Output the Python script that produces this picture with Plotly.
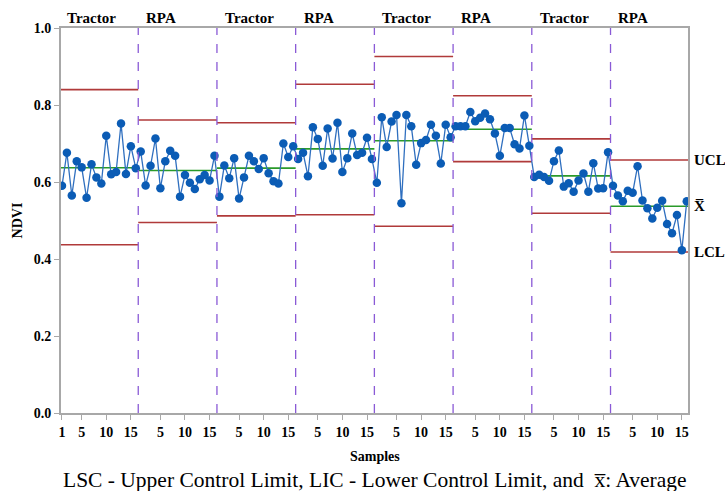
import plotly.graph_objects as go

# ---------------- data ----------------
segment_labels = ["Tractor", "RPA", "Tractor", "RPA", "Tractor", "RPA", "Tractor", "RPA"]
samples_per_segment = 16

ndvi_seg1 = [0.590, 0.676, 0.565, 0.654, 0.638, 0.559, 0.646, 0.612, 0.596, 0.720, 0.620, 0.626, 0.752, 0.621, 0.693, 0.636]
ndvi_seg2 = [0.679, 0.591, 0.642, 0.713, 0.584, 0.654, 0.681, 0.668, 0.562, 0.618, 0.598, 0.582, 0.607, 0.618, 0.604, 0.668]
ndvi_seg3 = [0.562, 0.643, 0.610, 0.662, 0.557, 0.612, 0.668, 0.654, 0.634, 0.662, 0.623, 0.602, 0.596, 0.700, 0.665, 0.693]
ndvi_seg4 = [0.660, 0.676, 0.615, 0.742, 0.712, 0.642, 0.739, 0.661, 0.754, 0.626, 0.662, 0.726, 0.670, 0.676, 0.715, 0.660]
ndvi_seg5 = [0.598, 0.768, 0.691, 0.757, 0.774, 0.545, 0.774, 0.745, 0.645, 0.701, 0.709, 0.749, 0.720, 0.648, 0.749, 0.716]
ndvi_seg6 = [0.745, 0.745, 0.745, 0.782, 0.758, 0.767, 0.778, 0.763, 0.726, 0.668, 0.740, 0.740, 0.698, 0.687, 0.773, 0.694]
ndvi_seg7 = [0.613, 0.619, 0.613, 0.603, 0.654, 0.682, 0.588, 0.597, 0.575, 0.604, 0.622, 0.575, 0.649, 0.583, 0.584, 0.677]
ndvi_seg8 = [0.590, 0.565, 0.550, 0.577, 0.572, 0.641, 0.552, 0.532, 0.505, 0.533, 0.551, 0.491, 0.467, 0.514, 0.423, 0.550]

ucl = [0.840, 0.761, 0.754, 0.854, 0.926, 0.824, 0.712, 0.657]
mean = [0.637, 0.630, 0.636, 0.686, 0.707, 0.737, 0.616, 0.537]
lcl = [0.437, 0.495, 0.512, 0.515, 0.485, 0.653, 0.519, 0.418]

tick_samples = [5, 10, 15]
y_ticks = [0.0, 0.2, 0.4, 0.6, 0.8, 1.0]
caption = "LSC - Upper Control Limit, LIC - Lower Control Limit, and  x\u0305: Average"

# ---------------- build ----------------
segments = [ndvi_seg1, ndvi_seg2, ndvi_seg3, ndvi_seg4, ndvi_seg5, ndvi_seg6, ndvi_seg7, ndvi_seg8]
n_seg = len(segments)
n = samples_per_segment

xs, ys = [], []
for k, seg in enumerate(segments):
    for i, v in enumerate(seg):
        xs.append(k * n + i + 1)
        ys.append(v)

SERIF = "Liberation Serif, Times New Roman, serif"
RED = "#b03a3a"
GREEN = "#2a9a2a"
BLUE_LINE = "#2f6fbf"
BLUE_MARK = "#0b5cb5"
PURPLE = "#8a5ad6"

fig = go.Figure()

x_min, x_max = 0.8, n_seg * n + 0.25

for k in range(n_seg):
    x0 = max(k * n + 0.5, x_min)
    x1 = min((k + 1) * n + 0.5, x_max)
    for val, col in ((ucl[k], RED), (lcl[k], RED), (mean[k], GREEN)):
        fig.add_trace(go.Scatter(x=[x0, x1], y=[val, val], mode="lines",
                                 line=dict(color=col, width=1.6),
                                 hoverinfo="skip", showlegend=False))

fig.add_trace(go.Scatter(x=xs, y=ys, mode="lines+markers",
                         line=dict(color=BLUE_LINE, width=1.3),
                         marker=dict(color=BLUE_MARK, size=8.5),
                         showlegend=False))

shapes = []
for k in range(1, n_seg):
    shapes.append(dict(type="line", xref="x", yref="paper",
                       x0=k * n + 0.5, x1=k * n + 0.5, y0=0, y1=1,
                       line=dict(color=PURPLE, width=1.3, dash="dash")))

annotations = []
for k, lab in enumerate(segment_labels):
    annotations.append(dict(x=k * n + 1.7, y=1.0, xref="x", yref="paper",
                            text="<b>%s</b>" % lab, showarrow=False,
                            xanchor="left", yanchor="bottom", yshift=0,
                            font=dict(family=SERIF, size=15, color="black")))

for val, txt in ((ucl[-1], "UCL"), (mean[-1], "X\u0305"), (lcl[-1], "LCL")):
    annotations.append(dict(x=1.0, y=val, xref="paper", yref="y",
                            text="<b>%s</b>" % txt, showarrow=False,
                            xanchor="left", yanchor="middle", xshift=4,
                            font=dict(family=SERIF, size=15, color="black")))

annotations.append(dict(x=0.5, y=0, xref="paper", yref="paper",
                        text="<b>Samples</b>", showarrow=False,
                        xanchor="center", yanchor="top", yshift=-34,
                        font=dict(family=SERIF, size=14, color="black")))
annotations.append(dict(x=0.5, y=0, xref="paper", yref="paper",
                        text=caption, showarrow=False,
                        xanchor="center", yanchor="top", yshift=-53,
                        font=dict(family=SERIF, size=21.5, color="black")))

tickvals = [1]
ticktext = ["1"]
for k in range(n_seg):
    for t in tick_samples:
        tickvals.append(k * n + t)
        ticktext.append(str(t))

fig.update_layout(
    width=725, height=491,
    margin=dict(l=61, r=37, t=28, b=78),
    plot_bgcolor="white", paper_bgcolor="white",
    shapes=shapes, annotations=annotations,
    font=dict(family=SERIF, size=14, color="black"),
    xaxis=dict(range=[x_min, x_max], tickvals=tickvals,
               ticktext=["<b>%s</b>" % t for t in ticktext],
               showgrid=False, zeroline=False, showline=True, mirror=True,
               linecolor="#a8a8a8", linewidth=2, ticks="outside",
               ticklen=5, tickcolor="#a8a8a8",
               tickfont=dict(family=SERIF, size=14, color="black")),
    yaxis=dict(range=[0, 1.0], tickvals=y_ticks,
               ticktext=["<b>%.1f</b>" % v for v in y_ticks],
               showgrid=False, zeroline=False, showline=True, mirror=True,
               linecolor="#a8a8a8", linewidth=2, ticks="outside",
               ticklen=5, tickcolor="#a8a8a8",
               title=dict(text="<b>NDVI</b>", standoff=8,
                          font=dict(family=SERIF, size=14, color="black")),
               tickfont=dict(family=SERIF, size=14, color="black")),
)

fig.write_html("out.html")
